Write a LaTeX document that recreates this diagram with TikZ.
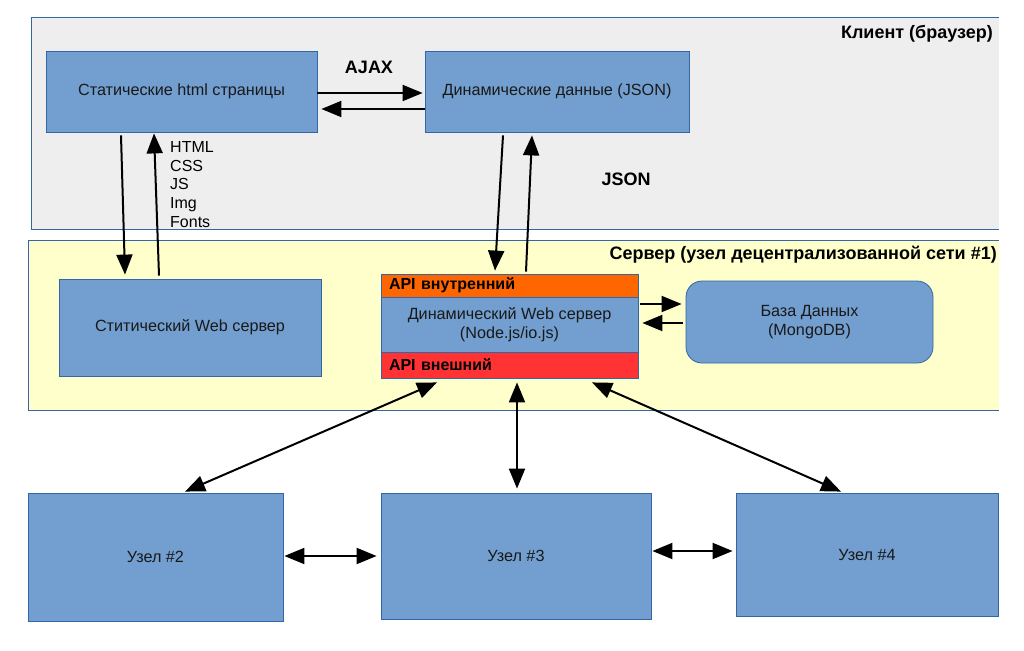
\documentclass[tikz,border=0pt]{standalone}
\usepackage{fontspec}
\setmainfont{Liberation Sans}
\usetikzlibrary{arrows.meta,calc}
\definecolor{boxblue}{HTML}{729FCF}
\definecolor{edgeblue}{HTML}{3465A4}
\definecolor{clientbg}{HTML}{EEEEEE}
\definecolor{serverbg}{HTML}{FFFFCC}
\definecolor{apiorange}{HTML}{FF6600}
\definecolor{apired}{HTML}{FF3333}
\begin{document}
\begin{tikzpicture}[x=1pt,y=-1pt,
  frame/.style={draw=edgeblue, line width=0.8pt},
  blk/.style={draw=edgeblue, fill=boxblue, line width=0.8pt, inner sep=0pt,
    font=\fontsize{16.2}{19}\selectfont, text=black!90, align=center},
  apibar/.style={draw=edgeblue, line width=0.8pt, inner ysep=0pt, inner xsep=8pt,
    font=\bfseries\fontsize{16}{19}\selectfont, text=black, align=left},
  title/.style={font=\bfseries\fontsize{18}{21}\selectfont, text=black, inner sep=0pt},
  plain/.style={font=\fontsize{16}{18.75}\selectfont, text=black, inner sep=0pt, align=left},
  tip/.tip={Triangle[length=20pt,width=16pt]},
  conn/.style={line width=2pt, -tip},
  biconn/.style={line width=2pt, tip-tip},
]
\useasboundingbox (0,0) rectangle (1024,650);
\fill[white] (0,0) rectangle (1024,650);

% frames
\fill[clientbg] (31,17) rectangle (998.5,229);
\draw[frame] (998.5,17) -- (31,17) -- (31,229) -- (998.5,229);
\fill[serverbg] (28,240) rectangle (998.5,410);
\draw[frame] (998.5,240) -- (28,240) -- (28,410) -- (998.5,410);

\node[title, anchor=east] (clienttitle) at (993,34) {Клиент (браузер)};
\node[title, anchor=east] (servertitle) at (997,255) {Сервер (узел децентрализованной сети \#1)};

% client boxes
\node[blk, minimum width=271pt, minimum height=81pt] (shtml) at (181.5,91.5) {Статические html страницы};
\node[blk, minimum width=264pt, minimum height=81pt] (dyndata) at (557,91.5) {Динамические данные (JSON)};
\node[title] (ajax) at (369,67) {AJAX};
\node[title] (json) at (626,179) {JSON};

% server boxes
\node[blk, minimum width=262pt, minimum height=97pt] (sweb) at (190,327.5) {Ститический Web сервер};
\node[apibar, fill=apiorange, text width=241pt, minimum height=23pt] (apiin) at (509.5,285.5) {API внутренний};
\node[blk, minimum width=257pt, minimum height=55pt] (dynmid) at (509.5,324.5) {Динамический Web сервер\\(Node.js/io.js)};
\node[apibar, fill=apired, text width=241pt, minimum height=26pt] (apiout) at (509.5,365) {API внешний};
\node[blk, rounded corners=16pt, minimum width=247pt, minimum height=82pt] (db) at (809.5,322) {База Данных\\(MongoDB)};

% bottom nodes
\node[blk, minimum width=255pt, minimum height=128pt] (node2) at (155.5,557) {Узел \#2};
\node[blk, minimum width=270pt, minimum height=126pt] (node3) at (516,556) {Узел \#3};
\node[blk, minimum width=262pt, minimum height=123pt] (node4) at (867,554.5) {Узел \#4};

% file types label
\node[plain, anchor=west] (filetypes) at (170,184.5) {HTML\\CSS\\JS\\Img\\Fonts};

% AJAX arrows
\draw[conn] (shtml.east |- 0,93) -- ([xshift=-2pt]dyndata.west |- 0,93);
\draw[conn] (dyndata.west |- 0,109) -- ([xshift=4pt]shtml.east |- 0,109);

% static html <-> static web server
\draw[conn] ($(shtml.south)+(-60.5,3)$) -- ($(sweb.north)+(-65,-4)$);
\draw[conn] ($(sweb.north)+(-31,-3)$) -- ($(shtml.south)+(-27.5,1)$);

% dynamic data <-> API
\draw[conn] ($(dyndata.south)+(-54,3)$) -- ($(apiin.north)+(-14.5,-3)$);
\draw[conn] ($(apiin.north)+(16.5,-2)$) -- ($(dyndata.south)+(-25,3)$);

% dyn server <-> db
\draw[conn] ([xshift=2pt]dynmid.east |- 0,304) -- ([xshift=-4pt]db.west |- 0,304);
\draw[conn] ([xshift=-3pt]db.west |- 0,323) -- ([xshift=4pt]dynmid.east |- 0,323);

% server <-> nodes
\draw[biconn] ($(apiout.south)+(-72.5,4)$) -- ($(node2.north)+(29.5,-1)$);
\draw[biconn] ($(apiout.south)+(7.5,4)$) -- ($(node3.north)+(1,-4)$);
\draw[biconn] ($(apiout.south)+(82.5,4)$) -- ($(node4.north)+(-26,-1)$);

% nodes <-> nodes
\draw[biconn] ([xshift=1pt]node2.east |- 0,556) -- ([xshift=-4pt]node3.west |- 0,556);
\draw[biconn] ([xshift=1pt]node3.east |- 0,551) -- ([xshift=-3pt]node4.west |- 0,551);

\fill[white] (998.9,0) rectangle (1024,650);
\end{tikzpicture}
\end{document}
